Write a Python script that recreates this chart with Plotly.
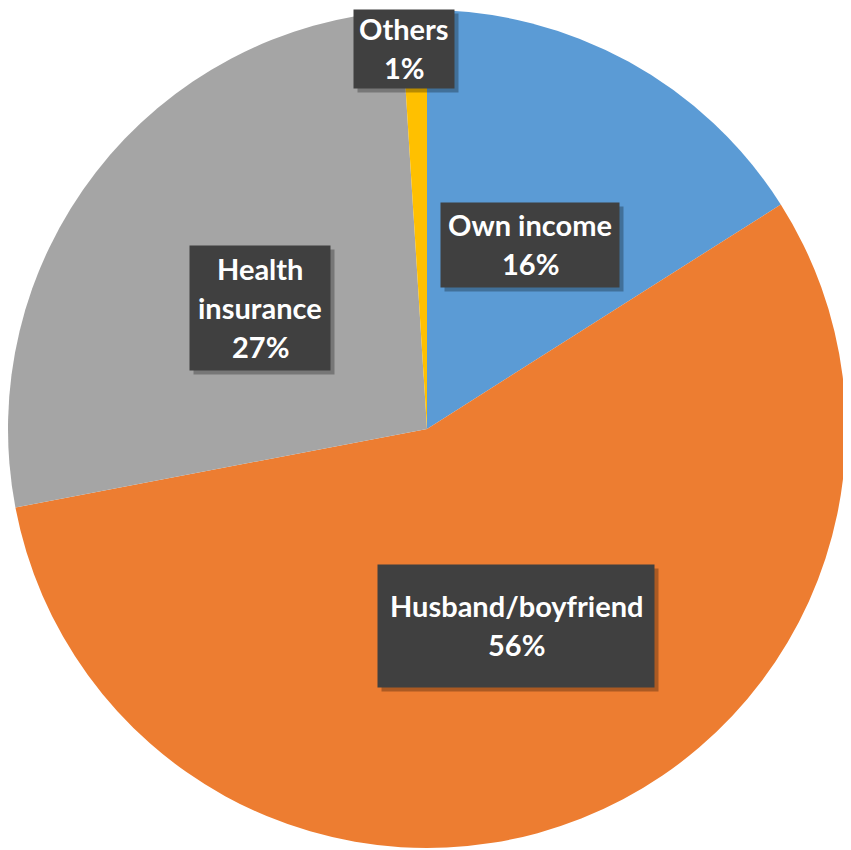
import plotly.graph_objects as go

categories = ["Own income", "Husband/boyfriend", "Health insurance", "Others"]
label_lines = [["Own income"], ["Husband/boyfriend"], ["Health", "insurance"], ["Others"]]
values = [16, 56, 27, 1]
colors = ["#5B9BD5", "#ED7D31", "#A5A5A5", "#FFC000"]

W, H = 851, 850
OFF = 8  # page body margin offset
LINE = 39  # px between text lines
# label box centers (page px) and sizes (px)
box_centers = [(530, 245), (516, 626), (260, 308), (404, 49)]
box_sizes = [(178, 84), (276, 122), (140, 124), (100, 78)]

fig = go.Figure(go.Pie(
    labels=categories,
    values=values,
    sort=False,
    direction="clockwise",
    rotation=0,
    marker=dict(colors=colors, line=dict(width=0)),
    textinfo="none",
    hoverinfo="label+percent",
    showlegend=False,
    domain=dict(x=[0, 838 / W], y=[10 / H, 1 - 2 / H]),
))

annotations = []
font = dict(family="Lato", size=29, color="white")
for lines, val, (cx, cy), (bw, bh) in zip(label_lines, values, box_centers, box_sizes):
    fx, fy = cx - OFF, cy - OFF
    # shadow
    annotations.append(dict(
        x=(fx + 4) / W, y=1 - (fy + 4) / H, xref="paper", yref="paper",
        text=" ", showarrow=False, width=bw, height=bh,
        bgcolor="rgba(0,0,0,0.28)", borderpad=0,
        xanchor="center", yanchor="middle",
    ))
    annotations.append(dict(
        x=fx / W, y=1 - fy / H, xref="paper", yref="paper",
        text=" ", showarrow=False, width=bw, height=bh,
        bgcolor="#404040", borderpad=0,
        xanchor="center", yanchor="middle",
    ))
    all_lines = lines + [f"{val}%"]
    n = len(all_lines)
    for i, t in enumerate(all_lines):
        ly = fy + (i - (n - 1) / 2) * LINE - 1
        annotations.append(dict(
            x=fx / W, y=1 - ly / H, xref="paper", yref="paper",
            text=f"<b>{t}</b>", showarrow=False, font=font,
            xanchor="center", yanchor="middle",
        ))

fig.update_layout(
    width=W, height=H,
    margin=dict(l=0, r=0, t=0, b=0),
    paper_bgcolor="white",
    plot_bgcolor="white",
    annotations=annotations,
)

fig.write_html("out.html")
